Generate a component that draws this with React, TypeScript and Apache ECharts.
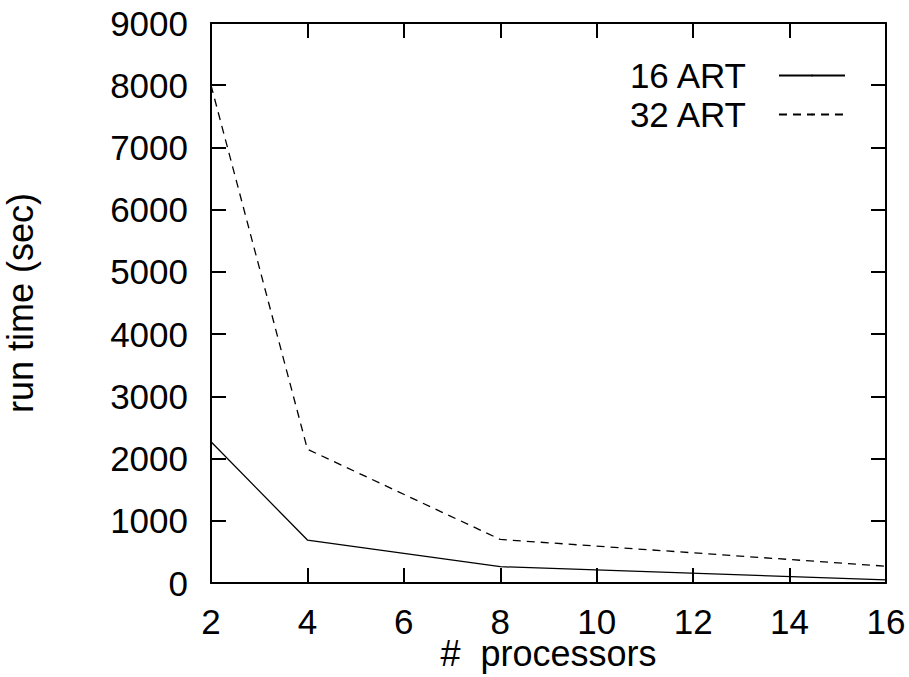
import React, { useEffect, useRef } from "react";
import * as echarts from "echarts";

const processors = [2, 4, 8, 16];
const art16 = [2270, 690, 262, 50];
const art32 = [8000, 2150, 700, 270];
const seriesNames = ["16 ART", "32 ART"];
const xTitle = "#  processors";
const yTitle = "run time (sec)";

const FONT = "Liberation Sans, Arial, sans-serif";
const FS = 35;

export default function App() {
  const ref = useRef<HTMLDivElement>(null);
  useEffect(() => {
    if (!ref.current) return;
    const chart = echarts.init(ref.current, undefined, { renderer: "svg" });
    const axisLine = { show: true, onZero: false, lineStyle: { color: "#000", width: 2 } };
    const axisTick = { show: true, inside: true, length: 15, lineStyle: { color: "#000", width: 2 } };
    const label = { color: "#000", fontSize: FS, fontFamily: FONT };
    chart.setOption({
      animation: false,
      backgroundColor: "#fff",
      textStyle: { fontFamily: FONT },
      grid: {
        left: 211,
        right: 23,
        top: 23,
        bottom: 94,
        containLabel: false,
        outerBoundsMode: "none",
      },
      legend: {
        orient: "vertical",
        right: 63,
        top: 58,
        padding: 0,
        align: "right",
        itemWidth: 66,
        itemHeight: 2,
        itemGap: 4,
        textStyle: { color: "#000", fontSize: FS, fontFamily: FONT, padding: [0, 28, 0, 0] },
        data: seriesNames,
      },
      xAxis: [
        {
          type: "value",
          min: 2,
          max: 16,
          interval: 2,
          axisLine,
          axisTick,
          splitLine: { show: false },
          axisLabel: { ...label, margin: 24, lineHeight: 28 },
          name: xTitle,
          nameLocation: "middle",
          nameGap: 55,
          nameMoveOverlap: false,
          nameTextStyle: { ...label, fontSize: 36, lineHeight: 30 },
        },
        {
          type: "value",
          position: "top",
          min: 2,
          max: 16,
          interval: 2,
          axisLine,
          axisTick,
          splitLine: { show: false },
          axisLabel: { show: false },
        },
      ],
      yAxis: [
        {
          type: "value",
          min: 0,
          max: 9000,
          interval: 1000,
          axisLine,
          axisTick,
          splitLine: { show: false },
          axisLabel: { ...label, margin: 23, formatter: (v: number) => String(v) },
          name: yTitle,
          nameLocation: "middle",
          nameGap: 173,
          nameMoveOverlap: false,
          nameTextStyle: { ...label, fontSize: 36 },
        },
        {
          type: "value",
          position: "right",
          min: 0,
          max: 9000,
          interval: 1000,
          axisLine,
          axisTick,
          splitLine: { show: false },
          axisLabel: { show: false },
        },
      ],
      series: [
        {
          name: seriesNames[0],
          type: "line",
          data: processors.map((p, i) => [p, art16[i]]),
          symbol: "none",
          lineStyle: { color: "#000", width: 1.3, type: "solid" },
          itemStyle: { color: "#000" },
        },
        {
          name: seriesNames[1],
          type: "line",
          data: processors.map((p, i) => [p, art32[i]]),
          symbol: "none",
          lineStyle: { color: "#000", width: 1.3, type: [8, 6] },
          itemStyle: { color: "#000" },
        },
      ],
    });
    return () => chart.dispose();
  }, []);
  return (
    <div
      ref={ref}
      style={{ position: "fixed", left: 0, top: 0, width: 909, height: 677, background: "#fff" }}
    />
  );
}
